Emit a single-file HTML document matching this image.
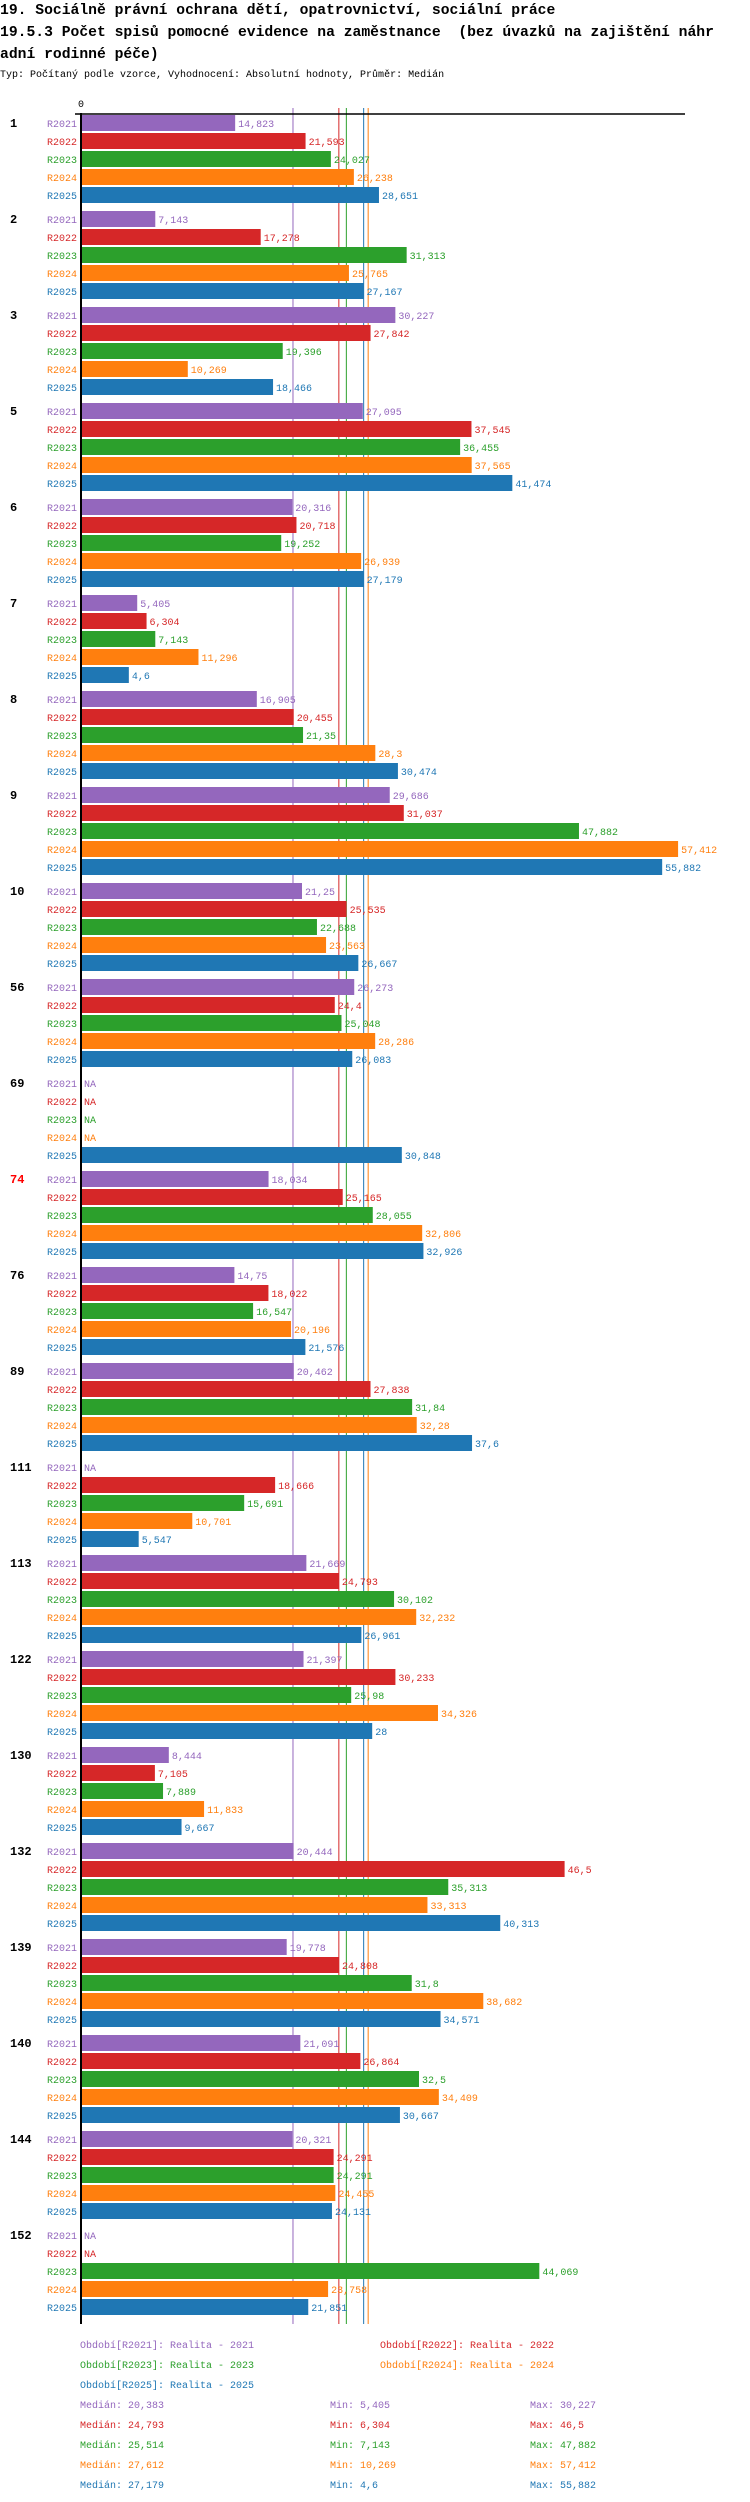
<!DOCTYPE html>
<html><head><meta charset="utf-8"><style>
body{margin:0;background:#fff;width:750px;height:2502px;overflow:hidden}
svg{display:block}
text{font-family:"Liberation Mono",monospace}
</style></head><body>
<svg id="chart" width="750" height="2502" xmlns="http://www.w3.org/2000/svg">
<text x="0" y="14" font-size="14.7" font-weight="bold">19. Sociálně právní ochrana dětí, opatrovnictví, sociální práce</text>
<text x="0" y="36" font-size="14.7" font-weight="bold" xml:space="preserve">19.5.3 Počet spisů pomocné evidence na zaměstnance  (bez úvazků na zajištění náhr</text>
<text x="0" y="58" font-size="14.7" font-weight="bold">adní rodinné péče)</text>
<text x="0" y="77" font-size="10">Typ: Počítaný podle vzorce, Vyhodnocení: Absolutní hodnoty, Průměr: Medián</text>
<g id="medians"></g>
<g id="bars"></g>
<g id="axes"></g>
<g id="legend"></g>
</svg>
<script>
const groups=["1","2","3","5","6","7","8","9","10","56","69","74","76","89","111","113","122","130","132","139","140","144","152"];
const series=["R2021","R2022","R2023","R2024","R2025"];
const colors=["#9467bd","#d62728","#2ca02c","#ff7f0e","#1f77b4"];
const v2021=[14.823,7.143,30.227,27.095,20.316,5.405,16.905,29.686,21.25,26.273,null,18.034,14.75,20.462,null,21.669,21.397,8.444,20.444,19.778,21.091,20.321,null];
const v2022=[21.593,17.278,27.842,37.545,20.718,6.304,20.455,31.037,25.535,24.4,null,25.165,18.022,27.838,18.666,24.793,30.233,7.105,46.5,24.808,26.864,24.291,null];
const v2023=[24.027,31.313,19.396,36.455,19.252,7.143,21.35,47.882,22.688,25.048,null,28.055,16.547,31.84,15.691,30.102,25.98,7.889,35.313,31.8,32.5,24.291,44.069];
const v2024=[26.238,25.765,10.269,37.565,26.939,11.296,28.3,57.412,23.563,28.286,null,32.806,20.196,32.28,10.701,32.232,34.326,11.833,33.313,38.682,34.409,24.455,23.758];
const v2025=[28.651,27.167,18.466,41.474,27.179,4.6,30.474,55.882,26.667,26.083,30.848,32.926,21.576,37.6,5.547,26.961,28,9.667,40.313,34.571,30.667,24.131,21.851];
const medians=[20.383,24.793,25.514,27.612,27.179];
const mins=[5.405,6.304,7.143,10.269,4.6];
const maxs=[30.227,46.5,47.882,57.412,55.882];
const legendNames=["Realita - 2021","Realita - 2022","Realita - 2023","Realita - 2024","Realita - 2025"];
const vals=[v2021,v2022,v2023,v2024,v2025];
const NS="http://www.w3.org/2000/svg";
const X0=81,K=10.4,TOP=115,BP=18,BH=16,GP=96;
const x=v=>X0+v*K;
const yBar=(g,s)=>TOP+g*GP+s*BP;
const fmt=v=>String(v).replace('.',',');
function mk(tag,parent,attrs,txt){const e=document.createElementNS(NS,tag);for(const k in attrs)e.setAttribute(k,attrs[k]);if(txt!==undefined)e.textContent=txt;parent.appendChild(e);return e;}
const gM=document.getElementById('medians'),gB=document.getElementById('bars'),gA=document.getElementById('axes'),gL=document.getElementById('legend');
const bottom=yBar(groups.length-1,4)+BH+9;
medians.forEach((m,i)=>{const l=mk('line',gM,{x1:x(m),x2:x(m),y1:108,y2:bottom,stroke:colors[i],'stroke-width':1});

});
groups.forEach((g,gi)=>{
 const t=mk('text',gB,{x:10,y:yBar(gi,0)+12,'font-size':12,'font-weight':'bold',fill:g==="74"?"#ff0000":"#000"},g);
 
 
 series.forEach((s,si)=>{
  const v=vals[si][gi],y=yBar(gi,si);
  const lb=mk('text',gB,{x:77,y:y+12,'font-size':10,fill:colors[si],'text-anchor':'end'},s);
  
  
  if(v===null){
   const na=mk('text',gB,{x:84,y:y+12,'font-size':10,fill:colors[si]},'NA');
   
   
   return;}
  const r=mk('rect',gB,{x:X0,y:y,width:x(v)-X0,height:BH,fill:colors[si]});
  
  
  const vl=mk('text',gB,{x:x(v)+3,y:y+12,'font-size':10,fill:colors[si]},fmt(v));
  
  
 });
});
const ax=mk('line',gA,{x1:75,x2:685,y1:114,y2:114,stroke:'#000','stroke-width':1.5});


const ay=mk('line',gA,{x1:X0,x2:X0,y1:113,y2:bottom,stroke:'#000','stroke-width':2});


const z=mk('text',gA,{x:X0,y:107,'font-size':10,'text-anchor':'middle'},'0');


series.forEach((s,i)=>{
 const lx=i%2===0?80:380,ly=2348+Math.floor(i/2)*20;
 const t=mk('text',gL,{x:lx,y:ly,'font-size':10,fill:colors[i]},'Období['+s+']: '+legendNames[i]);
 
 
 const sy=2408+i*20;
 const a=mk('text',gL,{x:80,y:sy,'font-size':10,fill:colors[i]},'Medián: '+fmt(medians[i]));
 
 
 const b=mk('text',gL,{x:330,y:sy,'font-size':10,fill:colors[i]},'Min: '+fmt(mins[i]));
 
 
 const c=mk('text',gL,{x:530,y:sy,'font-size':10,fill:colors[i]},'Max: '+fmt(maxs[i]));
 
 
});
</script>
</body></html>
